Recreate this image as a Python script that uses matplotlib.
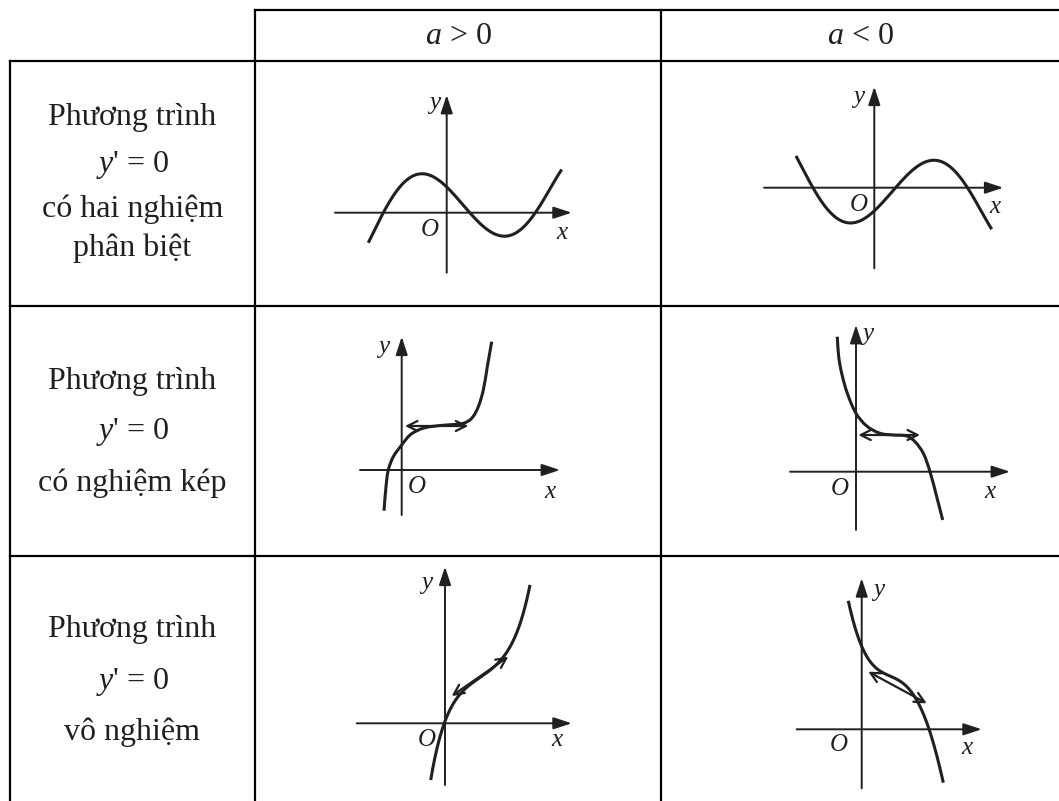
import numpy as np
import matplotlib.pyplot as plt
from matplotlib.path import Path
from matplotlib.patches import PathPatch
from matplotlib.transforms import Affine2D

plt.rcParams['font.family'] = 'Liberation Serif'
plt.rcParams['mathtext.fontset'] = 'custom'
plt.rcParams['mathtext.rm'] = 'Liberation Serif'
plt.rcParams['mathtext.it'] = 'Liberation Serif:italic'

INK = '#231f20'

# table grid (pixels)
col_edges = [10, 255, 661, 1059]
row_edges = [10, 61, 306, 556, 801]

headers = ['$a$ > 0', '$a$ < 0']
row_lines = [
    ['Phương trình', "$y$' = 0", 'có hai nghiệm', 'phân biệt'],
    ['Phương trình', "$y$' = 0", 'có nghiệm kép'],
    ['Phương trình', "$y$' = 0", 'vô nghiệm'],
]
row_line_y = [
    [117, 165, 209, 248],
    [382, 432, 483],
    [630, 682, 732],
]

# curve points (local px from its origin O, y up)
g1_x = [-78.4, -63.4, -46.7, -21.7, 0, 20, 36.6, 55, 73.3, 90.6, 115]
g1_y = [-30, 0, 26, 36.7, 31, 0, -15.6, -22.3, -14, 0, 43.7]

g2_x = [-78.3, -62.6, -44.3, -19.3, 0, 20.7, 35.7, 57.4, 75.7, 93.4, 117.4]
g2_y = [32.4, 0, -22.3, -34, -26.3, 0, 17.7, 25.7, 21, 0, -41.6]

g3_x = [-17.7, -15.7, -13.4, -8.4, 0, 8.3, 18.3, 28.3, 45, 61.6, 70, 76.6, 81.6, 85.6, 90]
g3_y = [-40.7, -16.7, 0, 13.3, 25, 35, 40.7, 43.3, 45, 46.7, 51.7, 63.3, 80, 103.3, 128.3]

g4_x = [-18.7, -17.3, -14.3, -8.7, 0, 10.7, 24, 37.3, 50.7, 59, 67.3, 74, 80.7, 86.7]
g4_y = [135, 115, 98.4, 78.4, 58.4, 45.7, 38.4, 36.7, 35.7, 30, 18.4, 0, -25, -48.3]

g5_x = [-14.3, -10, -5, 0, 5, 13.3, 25, 41.7, 55, 66.7, 75, 81.7, 85]
g5_y = [-56, -33.4, -16.7, 1.6, 16.6, 28.3, 36.6, 50, 63.3, 80, 100, 120, 140.6]

g6_x = [-13.4, -11, -6.7, 0, 11.6, 31.6, 51.6, 58.3, 63.3, 66.6, 75, 81.6]
g6_y = [131, 116, 99.3, 84.3, 66, 49.3, 34.3, 26, 12.6, 0, -27.4, -52.4]

sketches = [
    dict(origin=(446.7, 212.7), xax=(-111.7, 125), yax=(-60, 117.7), cx=g1_x, cy=g1_y,
         fit='poly', tangent=None, ylab=(-12, 110), olab=(-17, -17), xlab=(115, -20)),
    dict(origin=(874.3, 187.7), xax=(-110.3, 129), yax=(-80.6, 101), cx=g2_x, cy=g2_y,
         fit='poly', tangent=None, ylab=(-16, 91), olab=(-16, -17), xlab=(121, -19)),
    dict(origin=(401.7, 470), xax=(-41.7, 158.3), yax=(-45, 133.3), cx=g3_x, cy=g3_y,
         fit='path', tangent=((3.3, 44), (66.6, 44)), ylab=(-18, 123), olab=(15, -17),
         xlab=(148, -22)),
    dict(origin=(856, 471.7), xax=(-66, 154), yax=(-58.3, 146.7), cx=g4_x, cy=g4_y,
         fit='path', tangent=((2.3, 36.7), (64, 36.7)), ylab=(12, 138), olab=(-16, -17),
         xlab=(134, -20)),
    dict(origin=(445, 723.3), xax=(-88.3, 126.7), yax=(-61.7, 156.6), cx=g5_x, cy=g5_y,
         fit='poly', tangent=((6.7, 27.3), (63.3, 66.6)), ylab=(-18, 140), olab=(-18, -17),
         xlab=(112, -17)),
    dict(origin=(861.7, 729.3), xax=(-65, 120), yax=(-59, 151), cx=g6_x, cy=g6_y,
         fit='poly', tangent=((6.6, 57.6), (65, 26)), ylab=(17, 139), olab=(-23, -16),
         xlab=(105, -19)),
]


def smooth_path(xs, ys):
    # Bezier segments through the read points, tangents along neighbouring chords
    p = np.column_stack([xs, ys]).astype(float)
    n = len(p)
    tang = np.empty_like(p)
    tang[0] = p[1] - p[0]
    tang[-1] = p[-1] - p[-2]
    tang[1:-1] = p[2:] - p[:-2]
    tang /= np.linalg.norm(tang, axis=1)[:, None]
    verts = [p[0]]
    codes = [Path.MOVETO]
    for i in range(n - 1):
        d = np.linalg.norm(p[i + 1] - p[i]) / 3
        verts += [p[i] + tang[i] * d, p[i + 1] - tang[i + 1] * d, p[i + 1]]
        codes += [Path.CURVE4] * 3
    return Path(verts, codes)


fig = plt.figure(figsize=(10.59, 8.01), dpi=100)
ax = fig.add_axes([0, 0, 1, 1])
ax.set_xlim(0, 1059)
ax.set_ylim(801, 0)
ax.axis('off')

# table lines
ax.plot([col_edges[1], col_edges[3]], [row_edges[0]] * 2, color='black', lw=1.6)
for yy in row_edges[1:4]:
    ax.plot([col_edges[0], col_edges[3]], [yy, yy], color='black', lw=1.6)
ax.plot([col_edges[0]] * 2, [row_edges[1], row_edges[4]], color='black', lw=1.6)
for xx in col_edges[1:3]:
    ax.plot([xx, xx], [row_edges[0], row_edges[4]], color='black', lw=1.6)

# header and row captions
for i, h in enumerate(headers):
    ax.text((col_edges[i + 1] + col_edges[i + 2]) / 2, 36, h, ha='center', va='center',
            fontsize=23, color=INK)
for lines, ys in zip(row_lines, row_line_y):
    for s, yy in zip(lines, ys):
        ax.text((col_edges[0] + col_edges[1]) / 2, yy, s, ha='center', va='center',
                fontsize=23, color=INK)

for sk in sketches:
    ox, oy = sk['origin']
    tr = Affine2D().scale(1, -1).translate(ox, oy) + ax.transData

    # axes with arrow heads
    axis_style = dict(arrowstyle='-|>,head_length=0.85,head_width=0.28', color=INK, lw=1.4,
                      shrinkA=0, shrinkB=0, mutation_scale=13)
    ax.annotate('', xy=(sk['xax'][1], 0), xytext=(sk['xax'][0], 0), xycoords=tr,
                textcoords=tr, arrowprops=axis_style)
    ax.annotate('', xy=(0, sk['yax'][1]), xytext=(0, sk['yax'][0]), xycoords=tr,
                textcoords=tr, arrowprops=axis_style)

    # curve
    if sk['fit'] == 'poly':
        coef = np.polyfit(sk['cx'], sk['cy'], 5)
        xs = np.linspace(sk['cx'][0], sk['cx'][-1], 300)
        ax.plot(xs, np.polyval(coef, xs), color=INK, lw=2.2, transform=tr,
                solid_capstyle='butt')
    else:
        ax.add_patch(PathPatch(smooth_path(sk['cx'], sk['cy']), fill=False, edgecolor=INK,
                               lw=2.2, transform=tr, capstyle='butt'))

    # tangent at inflection
    if sk['tangent'] is not None:
        p0, p1 = sk['tangent']
        ax.annotate('', xy=p1, xytext=p0, xycoords=tr, textcoords=tr,
                    arrowprops=dict(arrowstyle='<->,head_length=0.6,head_width=0.3',
                                    color=INK, lw=1.6, shrinkA=0, shrinkB=0,
                                    mutation_scale=12))

    lab = dict(fontsize=18, color=INK, style='italic', ha='center', va='center',
               transform=tr)
    ax.text(*sk['ylab'], 'y', **lab)
    ax.text(*sk['olab'], 'O', **lab)
    ax.text(*sk['xlab'], 'x', **lab)

fig.savefig('out.png', dpi=100)
